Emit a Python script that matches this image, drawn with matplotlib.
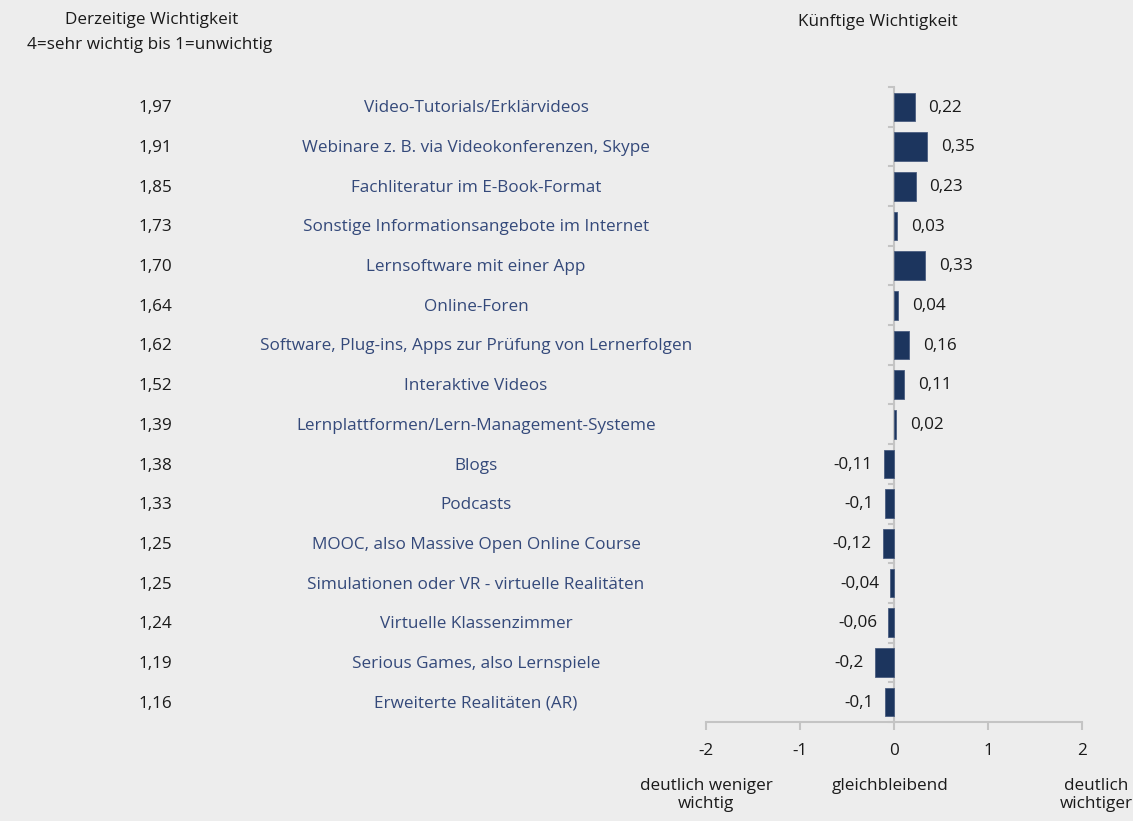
import numpy as np
import matplotlib.pyplot as plt

plt.rcParams['font.family'] = ['Open Sans', 'DejaVu Sans']

categories = [
    "Video-Tutorials/Erklärvideos",
    "Webinare z. B. via Videokonferenzen, Skype",
    "Fachliteratur im E-Book-Format",
    "Sonstige Informationsangebote im Internet",
    "Lernsoftware mit einer App",
    "Online-Foren",
    "Software, Plug-ins, Apps zur Prüfung von Lernerfolgen",
    "Interaktive Videos",
    "Lernplattformen/Lern-Management-Systeme",
    "Blogs",
    "Podcasts",
    "MOOC, also Massive Open Online Course",
    "Simulationen oder VR - virtuelle Realitäten",
    "Virtuelle Klassenzimmer",
    "Serious Games, also Lernspiele",
    "Erweiterte Realitäten (AR)",
]
current = [1.97, 1.91, 1.85, 1.73, 1.70, 1.64, 1.62, 1.52,
           1.39, 1.38, 1.33, 1.25, 1.25, 1.24, 1.19, 1.16]
future = [0.22, 0.35, 0.23, 0.03, 0.33, 0.04, 0.16, 0.11,
          0.02, -0.11, -0.1, -0.12, -0.04, -0.06, -0.2, -0.1]
x_ticks = [-2, -1, 0, 1, 2]
scale_labels = ["deutlich weniger\nwichtig", "gleichbleibend", "deutlich\nwichtiger"]

BG = "#ededed"
BAR = "#1c355e"
LABEL = "#34497a"
AXIS = "#c4c4c4"
TEXT = "#1a1a1a"
FS = 12.3
W, H = 1133, 821


def de(v):
    # decimal comma, trailing zero dropped (-0,1 / -0,2)
    s = f"{v:.2f}"
    if s.endswith("0"):
        s = s[:-1]
    return s.replace(".", ",")


fig = plt.figure(figsize=(W / 100, H / 100), dpi=100, facecolor=BG)
ax = fig.add_axes([706 / W, 1 - 722 / H, 376 / W, 635 / H], facecolor=BG)

n = len(categories)
y = np.arange(n)
ax.barh(y, future, height=0.72, color=BAR, edgecolor="#4a5d80", linewidth=0.6)

ax.set_xlim(-2, 2)
ax.set_ylim(n - 0.5, -0.5)
for s in ["top", "right", "left"]:
    ax.spines[s].set_visible(False)
ax.spines["bottom"].set_color(AXIS)
ax.spines["bottom"].set_linewidth(1.5)
ax.set_xticks(x_ticks)
ax.set_xticklabels([str(t) for t in x_ticks], fontsize=FS, color=TEXT)
ax.tick_params(axis="x", colors=AXIS, labelcolor=TEXT, length=6, width=1.5, pad=9)
ax.set_yticks([])

# zero line with small separators between the categories
ax.axvline(0, color=AXIS, lw=1.5, zorder=0)
for b in np.arange(-0.5, n, 1.0):
    ax.plot([-0.05, 0], [b, b], color=AXIS, lw=1.5, zorder=0, clip_on=False)

for yi, v in zip(y, future):
    if v >= 0:
        ax.annotate(de(v), (v, yi), xytext=(10, -0.5), textcoords="offset points",
                    ha="left", va="center", fontsize=FS, color=TEXT)
    else:
        ax.annotate(de(v), (v, yi), xytext=(-8, -0.5), textcoords="offset points",
                    ha="right", va="center", fontsize=FS, color=TEXT)

# category names and current importance left of the axes
fig.canvas.draw()
for yi, cat, c in zip(y, categories, current):
    fy = (ax.transData.transform((0, yi))[1] - 1.5) / H
    fig.text(476 / W, fy, cat, ha="center", va="center", fontsize=FS, color=LABEL)
    fig.text(155 / W, fy, f"{c:.2f}".replace(".", ","), ha="center", va="center",
             fontsize=FS, color=TEXT)

fig.text(152 / W, 1 - 20 / H, "Derzeitige Wichtigkeit", ha="center", va="center",
         fontsize=FS, color=TEXT)
fig.text(150 / W, 1 - 45 / H, "4=sehr wichtig bis 1=unwichtig", ha="center", va="center",
         fontsize=FS, color=TEXT)
fig.text(878 / W, 1 - 22 / H, "Künftige Wichtigkeit", ha="center", va="center",
         fontsize=FS, color=TEXT)

for xv, lab in zip([-2, 0, 2], scale_labels):
    fx = ax.transData.transform((xv, 0))[0] / W
    if xv == 2:
        fx += 14 / W
    elif xv == 0:
        fx -= 4 / W
    fig.text(fx, 1 - 778 / H, lab, ha="center", va="top", fontsize=FS, color=TEXT,
             linespacing=1.2)

fig.savefig("out.png", dpi=100, facecolor=BG)
